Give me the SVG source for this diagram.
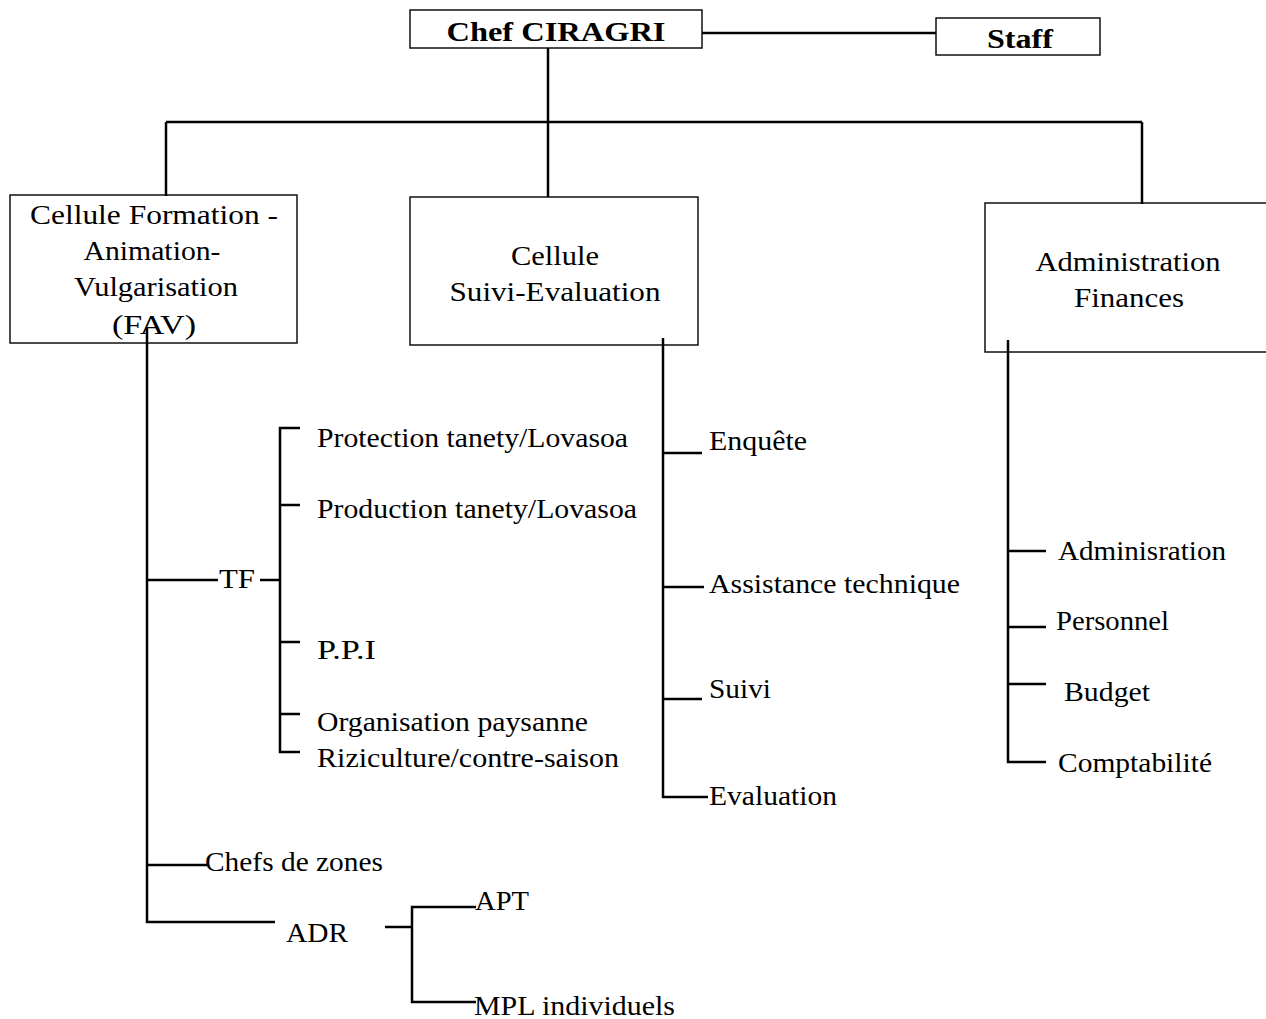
<svg xmlns="http://www.w3.org/2000/svg" width="1266" height="1019" viewBox="0 0 1266 1019">
<style>
.box{fill:none;stroke:#111;stroke-width:1.5}
.t{font-family:"Liberation Serif","Times New Roman",serif;font-size:27px;fill:#000}
.b{font-weight:bold;font-size:28px}
.c{text-anchor:middle}
.ln{fill:none;stroke:#000;stroke-width:2.5}
</style>
<rect width="1266" height="1019" fill="#fff"/>
<g id="chef"><rect class="box" x="410" y="10" width="292" height="38"/><text class="t b c" x="556" y="41" textLength="219" lengthAdjust="spacingAndGlyphs">Chef CIRAGRI</text></g>
<g id="staff"><rect class="box" x="936" y="18" width="164" height="37"/><text class="t b c" x="1020" y="48" textLength="66" lengthAdjust="spacingAndGlyphs">Staff</text></g>
<g id="fav"><rect class="box" x="10" y="195" width="287" height="148"/>
<text class="t c" x="154" y="224" textLength="248" lengthAdjust="spacingAndGlyphs">Cellule Formation -</text>
<text class="t c" x="152" y="260" textLength="137" lengthAdjust="spacingAndGlyphs">Animation-</text>
<text class="t c" x="156" y="296" textLength="164" lengthAdjust="spacingAndGlyphs">Vulgarisation</text>
<text class="t c" x="154" y="334" textLength="84" lengthAdjust="spacingAndGlyphs">(FAV)</text></g>
<g id="suivi-eval"><rect class="box" x="410" y="197" width="288" height="148"/>
<text class="t c" x="555" y="265" textLength="88" lengthAdjust="spacingAndGlyphs">Cellule</text>
<text class="t c" x="555" y="301" textLength="211" lengthAdjust="spacingAndGlyphs">Suivi-Evaluation</text></g>
<g id="admin"><rect class="box" x="985" y="203" width="290" height="149"/>
<text class="t c" x="1128" y="271" textLength="185" lengthAdjust="spacingAndGlyphs">Administration</text>
<text class="t c" x="1129" y="307" textLength="110" lengthAdjust="spacingAndGlyphs">Finances</text></g>
<g id="tf"><text class="t" x="219" y="588" textLength="36" lengthAdjust="spacingAndGlyphs">TF</text></g>
<g id="protection"><text class="t" x="317" y="447" textLength="311" lengthAdjust="spacingAndGlyphs">Protection tanety/Lovasoa</text></g>
<g id="production"><text class="t" x="317" y="518" textLength="320" lengthAdjust="spacingAndGlyphs">Production tanety/Lovasoa</text></g>
<g id="ppi"><text class="t" x="317" y="659" textLength="59" lengthAdjust="spacingAndGlyphs">P.P.I</text></g>
<g id="organisation"><text class="t" x="317" y="731" textLength="271" lengthAdjust="spacingAndGlyphs">Organisation paysanne</text></g>
<g id="riziculture"><text class="t" x="317" y="767" textLength="302" lengthAdjust="spacingAndGlyphs">Riziculture/contre-saison</text></g>
<g id="chefs-zones"><text class="t" x="205" y="871" textLength="178" lengthAdjust="spacingAndGlyphs">Chefs de zones</text></g>
<g id="adr"><text class="t" x="286" y="942" textLength="62" lengthAdjust="spacingAndGlyphs">ADR</text></g>
<g id="apt"><text class="t" x="475" y="910" textLength="54" lengthAdjust="spacingAndGlyphs">APT</text></g>
<g id="mpl"><text class="t" x="474" y="1015" textLength="201" lengthAdjust="spacingAndGlyphs">MPL individuels</text></g>
<g id="enquete"><text class="t" x="709" y="450" textLength="98" lengthAdjust="spacingAndGlyphs">Enquête</text></g>
<g id="assistance"><text class="t" x="709" y="593" textLength="251" lengthAdjust="spacingAndGlyphs">Assistance technique</text></g>
<g id="suivi"><text class="t" x="709" y="698" textLength="62" lengthAdjust="spacingAndGlyphs">Suivi</text></g>
<g id="evaluation"><text class="t" x="709" y="805" textLength="128" lengthAdjust="spacingAndGlyphs">Evaluation</text></g>
<g id="adminisration"><text class="t" x="1058" y="560" textLength="168" lengthAdjust="spacingAndGlyphs">Adminisration</text></g>
<g id="personnel"><text class="t" x="1056" y="630" textLength="113" lengthAdjust="spacingAndGlyphs">Personnel</text></g>
<g id="budget"><text class="t" x="1064" y="701" textLength="86" lengthAdjust="spacingAndGlyphs">Budget</text></g>
<g id="comptabilite"><text class="t" x="1058" y="772" textLength="154" lengthAdjust="spacingAndGlyphs">Comptabilité</text></g>
<g id="connectors">
<path class="ln" d="M702 33H936"/>
<path class="ln" d="M548 48V197"/>
<path class="ln" d="M166 122H1142"/>
<path class="ln" d="M166 122V196"/>
<path class="ln" d="M1142 122V204"/>
<path class="ln" d="M147 328V922H275"/>
<path class="ln" d="M147 580H218"/>
<path class="ln" d="M260 580H280"/>
<path class="ln" d="M300 428H280V752H300"/>
<path class="ln" d="M280 505H300M280 642H300M280 714H300"/>
<path class="ln" d="M147 865H207"/>
<path class="ln" d="M385 927H412"/>
<path class="ln" d="M476 907H412V1002H476"/>
<path class="ln" d="M663 338V797H708"/>
<path class="ln" d="M663 453H702M663 587H704M663 699H702"/>
<path class="ln" d="M1008 340V762H1046"/>
<path class="ln" d="M1008 551H1046M1008 627H1046M1008 684H1046"/>
</g>
</svg>
